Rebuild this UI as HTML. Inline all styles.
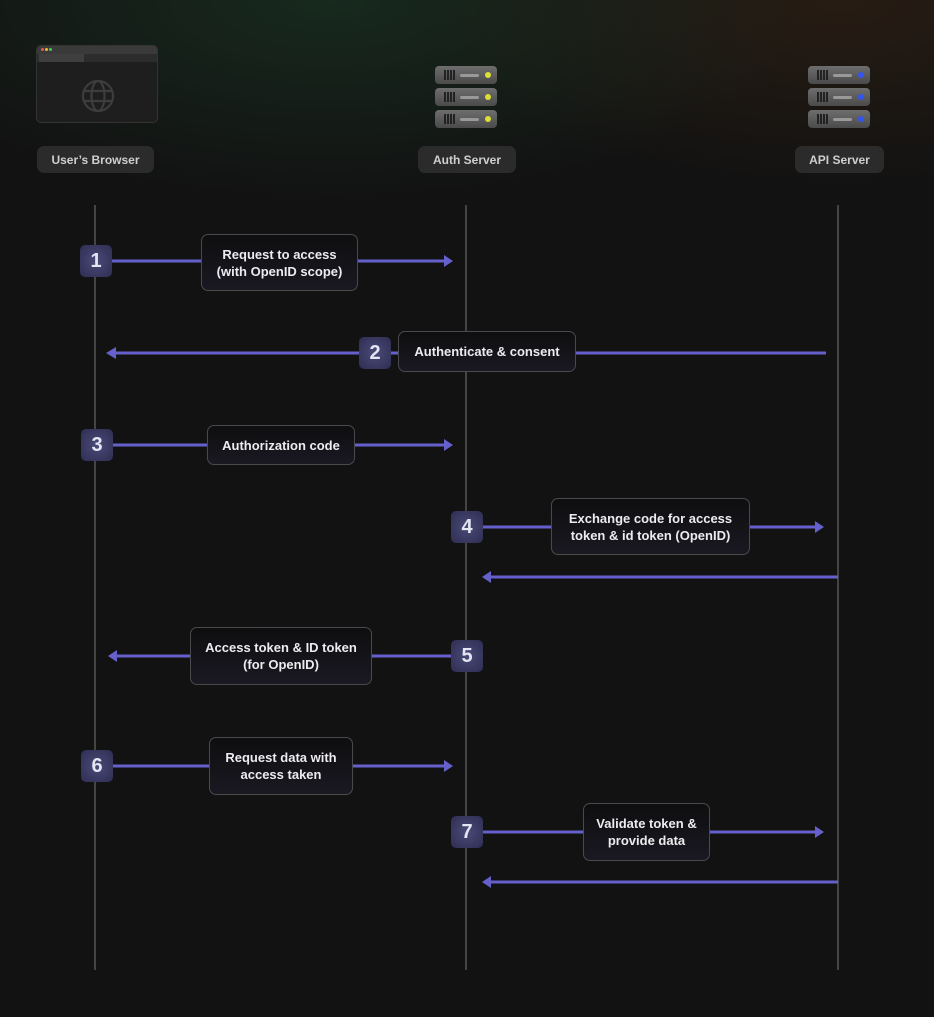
<!DOCTYPE html>
<html><head><meta charset="utf-8"><style>
*{margin:0;padding:0;box-sizing:border-box}
body{width:934px;height:1017px;overflow:hidden;background:#121212;font-family:"Liberation Sans",sans-serif;position:relative}
.glow{position:absolute;left:0;top:0;width:934px;height:320px;
background:radial-gradient(ellipse 480px 200px at 330px 0px,rgba(28,60,40,.55),rgba(28,60,40,0) 100%),radial-gradient(ellipse 420px 190px at 840px 0px,rgba(60,38,20,.5),rgba(60,38,20,0) 100%)}
.pill{position:absolute;height:27px;background:#2b2b2b;border-radius:7px;color:#cfcfcf;font-size:12px;font-weight:bold;display:flex;align-items:center;justify-content:center}
.lbl{position:absolute;background:linear-gradient(#0e0e0f,#1a1922);border:1px solid #4a4a4e;border-radius:7px;color:#ececf0;font-size:13px;font-weight:bold;display:flex;align-items:center;justify-content:center;text-align:center;line-height:17px}
.b{position:absolute;width:32px;height:32px;background:radial-gradient(circle at 50% 50%,#4a4a78,#2e2d52);border-radius:5px;color:#e4e4f2;font-size:20px;font-weight:bold;display:flex;align-items:center;justify-content:center}
.srv{position:absolute;width:62px;height:18px;border-radius:4px;background:linear-gradient(#6e6e6e,#4a4a4a)}
.srv .g{position:absolute;left:9px;top:4px;width:12px;height:10px;background:repeating-linear-gradient(90deg,#222 0 2px,transparent 2px 3px)}
.srv .s{position:absolute;left:25px;top:8px;width:19px;height:3px;background:#999;border-radius:2px}
.srv .d{position:absolute;left:50px;top:6px;width:6px;height:6px;border-radius:50%}
</style></head><body>
<div class="glow"></div>
<div style="position:absolute;left:36px;top:45px;width:122px;height:78px;background:#1e1e1e;border:1px solid #333;border-radius:5px;overflow:hidden">
 <div style="height:8px;background:#3a3a3a"></div>
 <div style="position:absolute;left:4px;top:2px;width:3px;height:3px;border-radius:50%;background:#e55"></div>
 <div style="position:absolute;left:8px;top:2px;width:3px;height:3px;border-radius:50%;background:#eb3"></div>
 <div style="position:absolute;left:12px;top:2px;width:3px;height:3px;border-radius:50%;background:#4c4"></div>
 <div style="height:8px;background:#2c2c2c"><div style="margin-left:2px;width:45px;height:8px;background:#3f3f3f"></div></div>
 <svg style="position:absolute;left:44px;top:33px" width="34" height="34" viewBox="0 0 34 34" fill="none" stroke="#3d3d3d" stroke-width="2.2"><circle cx="17" cy="17" r="15"/><ellipse cx="17" cy="17" rx="6.5" ry="15"/><line x1="2" y1="12" x2="32" y2="12"/><line x1="2" y1="22" x2="32" y2="22"/></svg>
</div>
<div class="pill" style="left:37px;top:146px;width:117px">User’s Browser</div>
<div class="srv" style="left:435px;top:66px"><div class="g"></div><div class="s"></div><div class="d" style="background:#dd3"></div></div>
<div class="srv" style="left:435px;top:88px"><div class="g"></div><div class="s"></div><div class="d" style="background:#dd3"></div></div>
<div class="srv" style="left:435px;top:110px"><div class="g"></div><div class="s"></div><div class="d" style="background:#dd3"></div></div>
<div class="pill" style="left:418px;top:146px;width:98px">Auth Server</div>
<div class="srv" style="left:808px;top:66px"><div class="g"></div><div class="s"></div><div class="d" style="background:#35e"></div></div>
<div class="srv" style="left:808px;top:88px"><div class="g"></div><div class="s"></div><div class="d" style="background:#35e"></div></div>
<div class="srv" style="left:808px;top:110px"><div class="g"></div><div class="s"></div><div class="d" style="background:#35e"></div></div>
<div class="pill" style="left:795px;top:146px;width:89px">API Server</div>
<svg style="position:absolute;left:0;top:0" width="934" height="1017">
<g stroke="#555" stroke-width="1.5"><line x1="95" y1="205" x2="95" y2="970"/><line x1="466" y1="205" x2="466" y2="970"/><line x1="838" y1="205" x2="838" y2="970"/></g>
<g stroke="#6560cc" stroke-width="3">
<line x1="112" y1="261" x2="446" y2="261"/><line x1="826" y1="353" x2="114" y2="353"/>
<line x1="112" y1="445" x2="446" y2="445"/><line x1="483" y1="527" x2="817" y2="527"/>
<line x1="838" y1="577" x2="488" y2="577"/><line x1="451" y1="656" x2="114" y2="656"/>
<line x1="112" y1="766" x2="446" y2="766"/><line x1="483" y1="832" x2="817" y2="832"/>
<line x1="838" y1="882" x2="488" y2="882"/></g>
<g fill="#6560cc">
<path d="M444 255L453 261L444 267Z"/><path d="M116 347L106 353L116 359Z"/>
<path d="M444 439L453 445L444 451Z"/><path d="M815 521L824 527L815 533Z"/>
<path d="M491 571L482 577L491 583Z"/><path d="M117 650L108 656L117 662Z"/>
<path d="M444 760L453 766L444 772Z"/><path d="M815 826L824 832L815 838Z"/>
<path d="M491 876L482 882L491 888Z"/></g>
</svg>
<div class="b" style="left:80px;top:245px">1</div>
<div class="lbl" style="left:201px;top:234px;width:157px;height:57px">Request to access<br>(with OpenID scope)</div>
<div class="b" style="left:359px;top:337px">2</div>
<div class="lbl" style="left:398px;top:331px;width:178px;height:41px">Authenticate &amp; consent</div>
<div class="b" style="left:81px;top:429px">3</div>
<div class="lbl" style="left:207px;top:425px;width:148px;height:40px">Authorization code</div>
<div class="b" style="left:451px;top:511px">4</div>
<div class="lbl" style="left:551px;top:498px;width:199px;height:57px">Exchange code for access<br>token &amp; id token (OpenID)</div>
<div class="b" style="left:451px;top:640px">5</div>
<div class="lbl" style="left:190px;top:627px;width:182px;height:58px">Access token &amp; ID token<br>(for OpenID)</div>
<div class="b" style="left:81px;top:750px">6</div>
<div class="lbl" style="left:209px;top:737px;width:144px;height:58px">Request data with<br>access taken</div>
<div class="b" style="left:451px;top:816px">7</div>
<div class="lbl" style="left:583px;top:803px;width:127px;height:58px">Validate token &amp;<br>provide data</div>
</body></html>
